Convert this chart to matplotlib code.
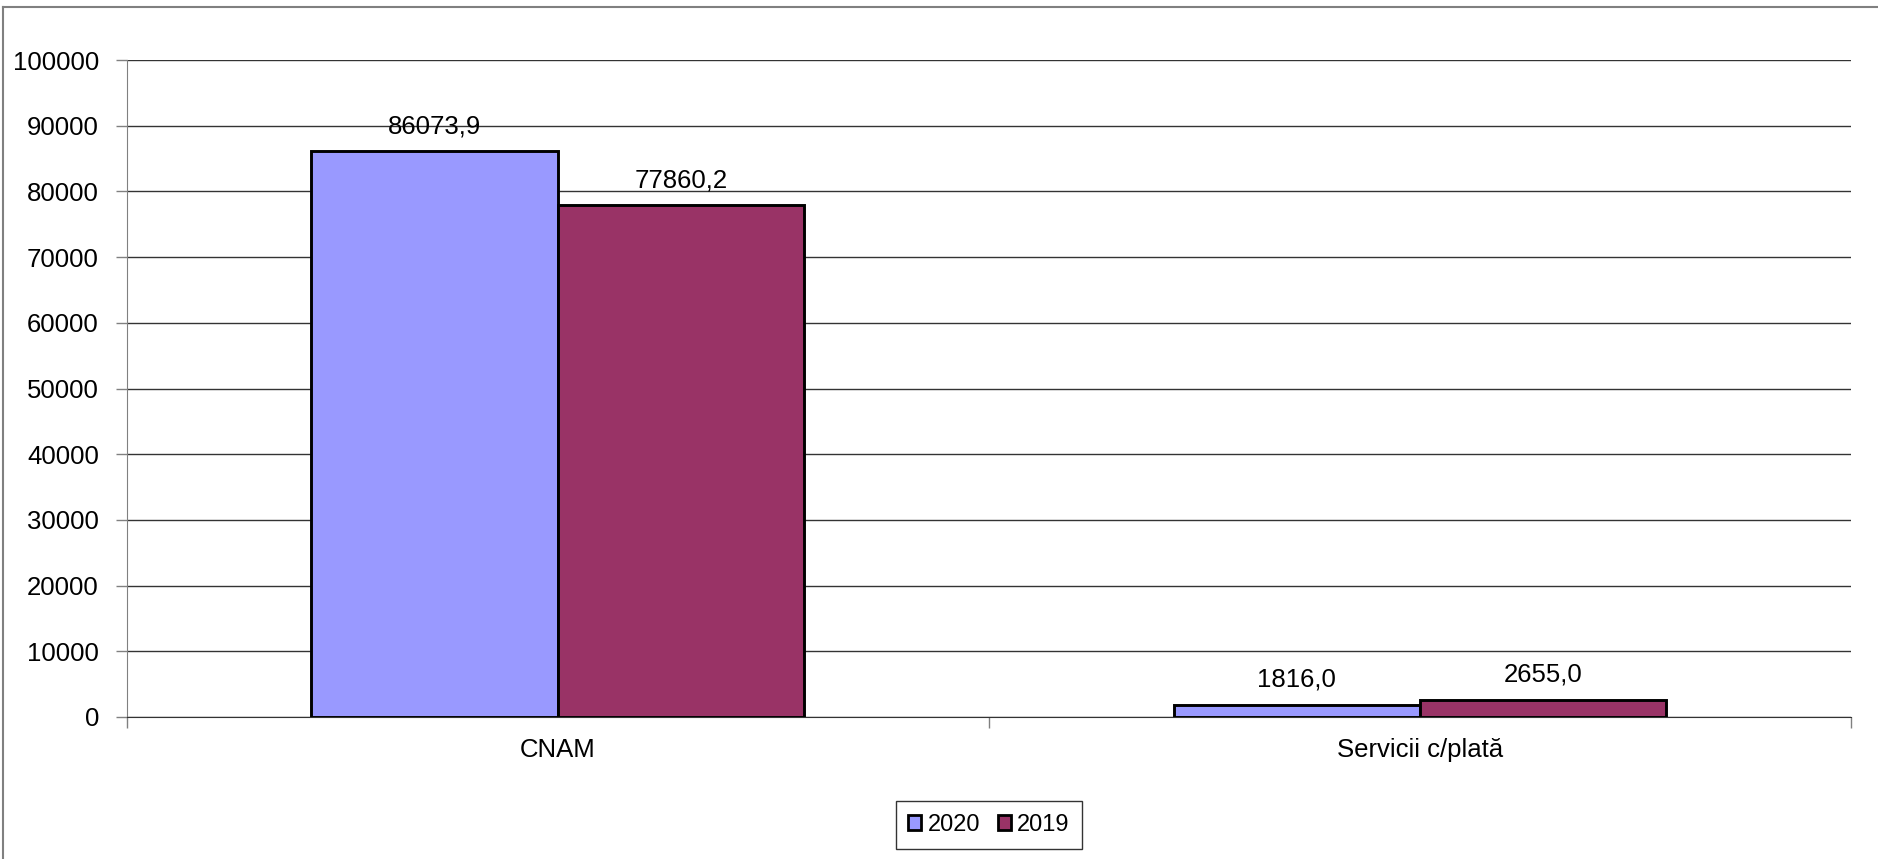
import matplotlib
matplotlib.use("Agg")
import matplotlib.pyplot as plt
from matplotlib.lines import Line2D
import numpy as np

categories = ["CNAM", "Servicii c/plată"]
series_names = ["2020", "2019"]
values_2020 = [86073.9, 1816.0]
values_2019 = [77860.2, 2655.0]
yticks = [0, 10000, 20000, 30000, 40000, 50000, 60000, 70000, 80000, 90000, 100000]

colors = ["#9999FF", "#993366"]

plt.rcParams['font.family'] = ['Liberation Sans', 'DejaVu Sans']

W, H = 1878, 859
fig = plt.figure(figsize=(W/100, H/100), dpi=100)
ax = fig.add_axes([126.7/W, 1 - 717/H, (1851 - 126.7)/W, (717 - 60)/H])

x = np.arange(len(categories))
bw = 1/3.5
for i, (vals, name) in enumerate([(values_2020, series_names[0]), (values_2019, series_names[1])]):
    offs = (i - 0.5) * bw
    bars = ax.bar(x + offs, vals, width=bw, color=colors[i], edgecolor='black',
                  linewidth=2.1, label=name, zorder=3)
    for b, v in zip(bars, vals):
        ax.annotate(f"{v:.1f}".replace('.', ','), (b.get_x() + b.get_width()/2, v),
                    xytext=(0, 9.5), textcoords='offset points', ha='center', va='bottom',
                    fontsize=18.5, zorder=4)

ax.set_xlim(-0.5, len(categories) - 0.5)
ax.set_ylim(0, 100000)
ax.set_yticks(yticks)
ax.set_yticklabels([str(t) for t in yticks], fontsize=18.5)
ax.yaxis.grid(True, color='#333333', linewidth=1.0, zorder=0)
ax.set_axisbelow(True)

ax.set_xticks(x)
ax.set_xticklabels(categories, fontsize=18.5)
ax.set_xticks(np.arange(-0.5, len(categories)), minor=True)
ax.tick_params(axis='x', which='major', length=0, pad=15)
ax.tick_params(axis='x', which='minor', length=8, width=1, color='#808080', direction='out')
ax.tick_params(axis='y', which='major', length=8, width=1, color='#808080', direction='out', pad=12)

for s in ['top', 'right']:
    ax.spines[s].set_visible(False)
ax.spines['left'].set_color('#808080')
ax.spines['bottom'].set_color('#333333')

leg = ax.legend(loc='center', bbox_to_anchor=(0.5, -0.164), ncol=2, fontsize=17,
                frameon=True, fancybox=False, edgecolor='black', handlelength=0.55,
                handleheight=0.55, handletextpad=0.25, columnspacing=0.76, borderpad=0.55)
leg.get_frame().set_linewidth(1.0)
for h in leg.legend_handles:
    h.set_linewidth(2.0)

# outer chart border (left and top)
fig.add_artist(Line2D([3/W, 3/W], [0, 1 - 7/H], transform=fig.transFigure, color='#808080', lw=1.5))
fig.add_artist(Line2D([3/W, 1], [1 - 7/H, 1 - 7/H], transform=fig.transFigure, color='#808080', lw=1.5))

fig.savefig("out.png", dpi=100)
